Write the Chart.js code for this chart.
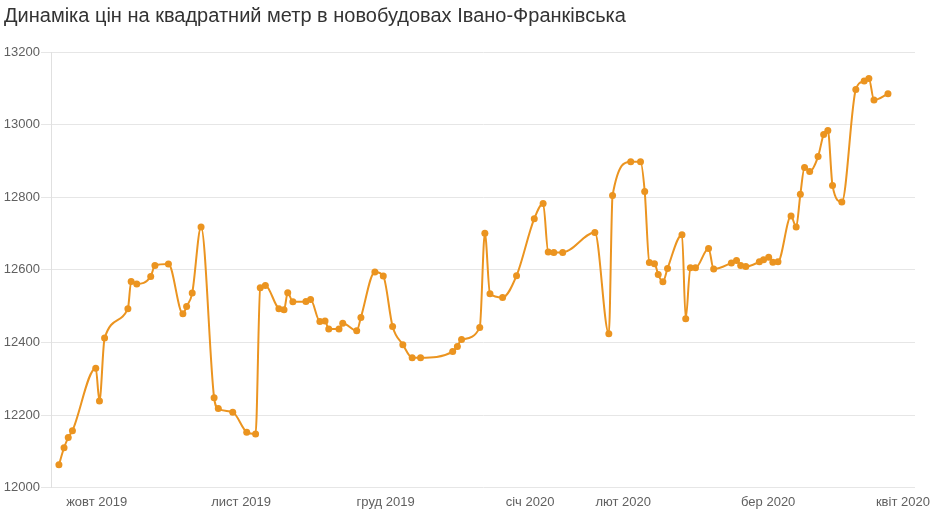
<!DOCTYPE html>
<html>
<head>
<meta charset="utf-8">
<script src="https://cdn.jsdelivr.net/npm/chart.js@4.4.1/dist/chart.umd.min.js"></script>
<style>
  html, body { margin: 0; padding: 0; background: #fff; }
  #wrap { width: 942px; height: 516px; position: relative; }
</style>
</head>
<body>
<div id="wrap"><canvas id="c"></canvas></div>
<script>
// Day offsets (0 = start of October 2019 on the chart's time axis)
const days = [
  -8.1, -7.0, -6.1, -5.2, -0.2, 0.6, 1.7, 6.7, 7.4, 8.6,
  11.6, 12.5, 15.4, 18.5, 19.3, 20.5, 22.4, 25.2, 26.1, 29.2,
  32.2, 34.1, 35.1, 36.2, 39.1, 40.2, 41.0, 42.1, 44.9, 45.9,
  47.9, 49.0, 49.8, 52.0, 52.8, 55.8, 56.7, 59.7, 61.5, 63.5,
  65.7, 67.7, 69.5, 76.4, 77.4, 78.3, 82.2, 83.3, 84.4, 87.1,
  90.1, 93.9, 95.8, 96.9, 98.1, 100.0, 106.9, 109.9, 110.7, 114.6,
  116.7, 117.6, 118.6, 119.7, 120.5, 121.5, 122.5, 125.6, 126.4, 127.4,
  128.5, 131.3, 132.4, 136.2, 137.3, 138.2, 139.3, 142.2, 143.1, 144.2,
  145.1, 146.2, 149.0, 150.1, 151.0, 151.9, 153.0, 154.8, 156.0, 156.9,
  157.9, 159.9, 162.9, 164.7, 165.7, 166.8, 169.8
];
// Price per square metre
const prices = [
  12063, 12110, 12138, 12157, 12329, 12239, 12412, 12493, 12568, 12561,
  12582, 12612, 12616, 12479, 12499, 12536, 12718, 12248, 12218, 12208,
  12153, 12148, 12551, 12557, 12493, 12490, 12537, 12512, 12513, 12518,
  12458, 12459, 12437, 12437, 12453, 12432, 12469, 12594, 12583, 12444,
  12394, 12358, 12358, 12375, 12389, 12408, 12441, 12701, 12534, 12524,
  12584, 12741, 12783, 12649, 12648, 12648, 12703, 12424, 12805, 12898,
  12898, 12816, 12620, 12617, 12587, 12567, 12604, 12697, 12465, 12606,
  12606, 12659, 12602, 12619, 12626, 12612, 12609, 12622, 12628, 12635,
  12621, 12622, 12748, 12718, 12808, 12882, 12871, 12912, 12973, 12984,
  12832, 12787, 13097, 13120, 13127, 13068, 13085
];
// Month tick positions and labels
const monthTicks = [0, 31, 62, 93, 113, 144.1, 173];
const monthLabels = ['жовт 2019', 'лист 2019', 'груд 2019', 'січ 2020', 'лют 2020', 'бер 2020', 'квіт 2020'];
const yTicks = [12000, 12200, 12400, 12600, 12800, 13000, 13200];
const titleText = 'Динаміка цін на квадратний метр в новобудовах Івано-Франківська';

const orange = '#eb9420';
const points = days.map((d, i) => ({ x: d, y: prices[i] }));

new Chart(document.getElementById('c'), {
  type: 'line',
  data: {
    datasets: [{
      data: points,
      borderColor: orange,
      backgroundColor: orange,
      borderWidth: 2,
      pointRadius: 3.5,
      pointHoverRadius: 4,
      pointBorderWidth: 0,
      cubicInterpolationMode: 'monotone',
      fill: false
    }]
  },
  options: {
    responsive: true,
    maintainAspectRatio: false,
    animation: false,
    layout: { padding: { left: 4, right: 27, top: 0, bottom: 0 } },
    plugins: {
      legend: { display: false },
      tooltip: { enabled: false },
      title: {
        display: true,
        text: titleText,
        align: 'start',
        color: '#333333',
        font: { family: '"Liberation Sans", Arial, sans-serif', size: 20, weight: 'normal' },
        padding: { top: 4, bottom: 24 }
      }
    },
    scales: {
      x: {
        type: 'linear',
        min: -9.8,
        max: 175.6,
        afterBuildTicks: (s) => { s.ticks = monthTicks.map(v => ({ value: v })); },
        afterFit: (s) => { s.height = 28.3; },
        ticks: {
          autoSkip: false,
          maxRotation: 0,
          padding: 7,
          color: '#606060',
          font: { family: '"Liberation Sans", Arial, sans-serif', size: 13 },
          callback: (v) => { const i = monthTicks.indexOf(v); return i >= 0 ? monthLabels[i] : ''; }
        },
        grid: { display: false, drawTicks: false },
        border: { display: false }
      },
      y: {
        min: 12000,
        max: 13200,
        afterBuildTicks: (s) => { s.ticks = yTicks.map(v => ({ value: v })); },
        afterFit: (s) => { s.width = 47; },
        ticks: {
          padding: 1,
          color: '#606060',
          font: { family: '"Liberation Sans", Arial, sans-serif', size: 13 },
          callback: (v) => String(v)
        },
        grid: { color: '#e6e6e6', lineWidth: 1, tickLength: 10, drawTicks: true },
        border: { display: true, color: '#e0e0e0' }
      }
    }
  }
});
</script>
</body>
</html>
